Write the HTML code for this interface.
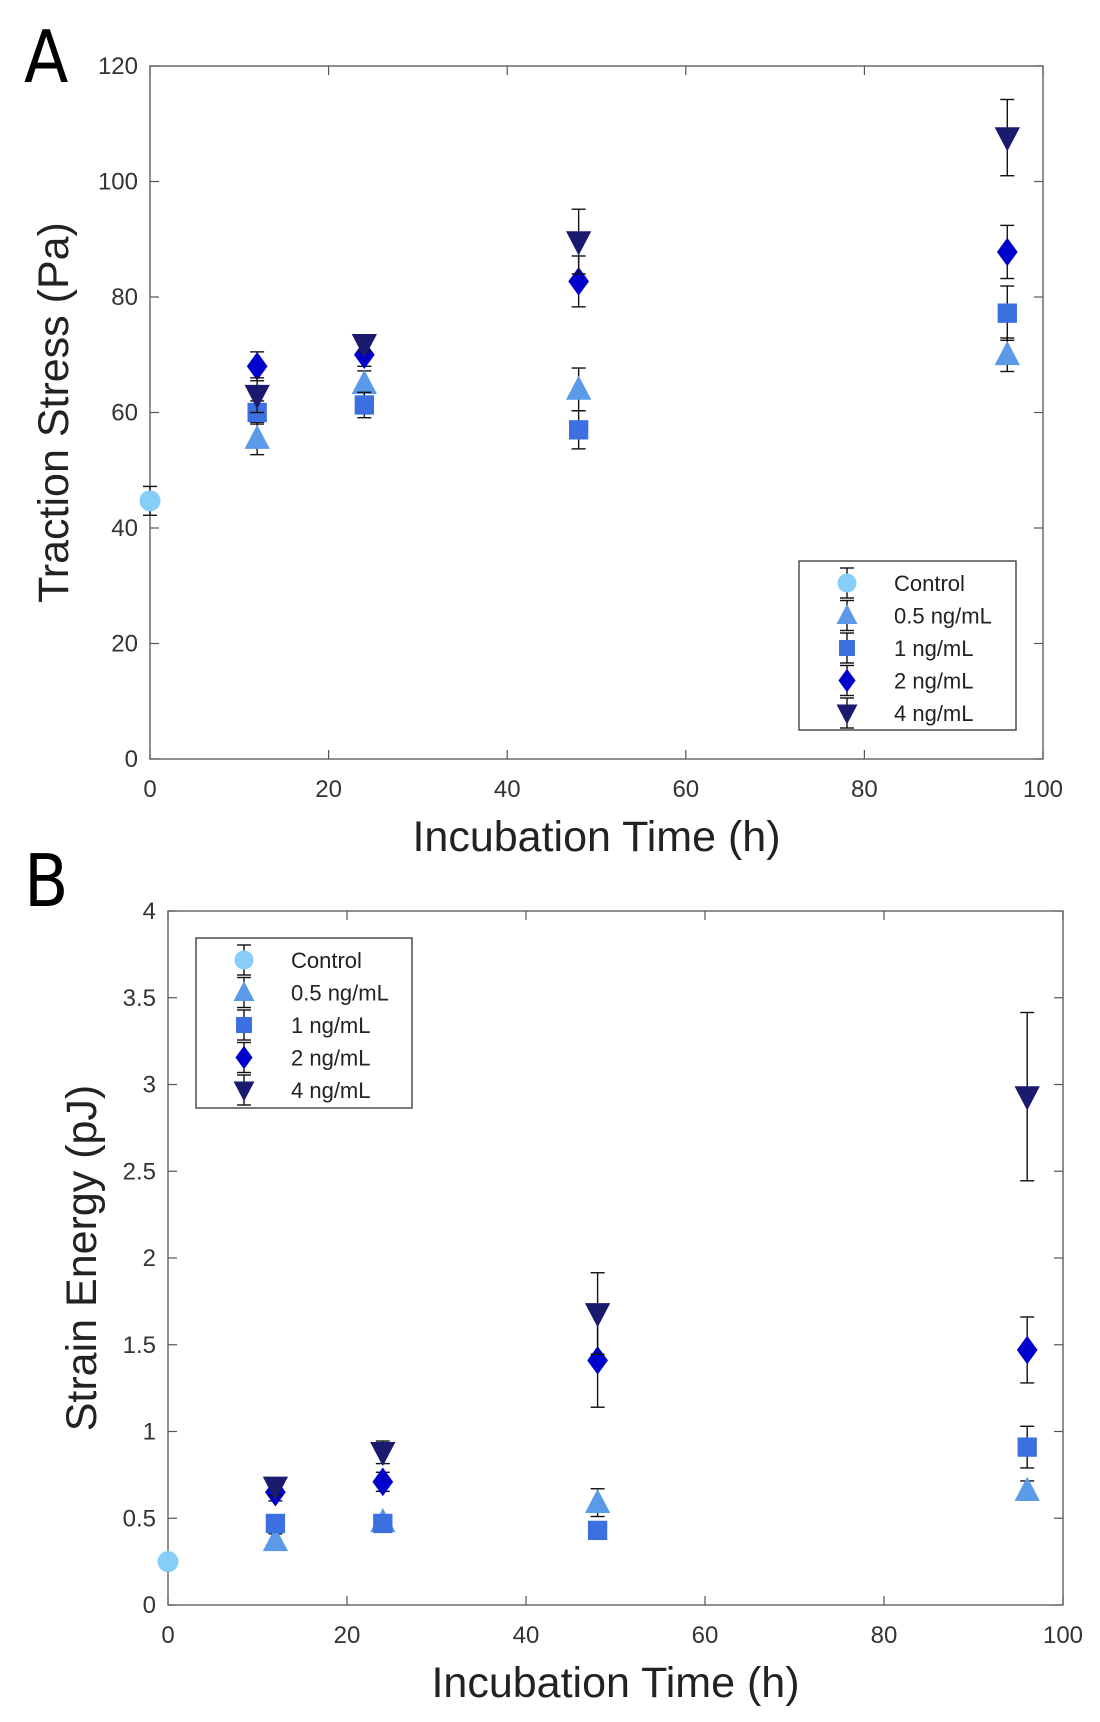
<!DOCTYPE html>
<html><head><meta charset="utf-8"><style>
html,body{margin:0;padding:0;background:#fff;}
svg{display:block;font-family:"Liberation Sans",sans-serif;}
</style></head><body>
<svg id="fig" width="1100" height="1722" viewBox="0 0 1100 1722" xmlns="http://www.w3.org/2000/svg"></svg>
<script>
const times = [12, 24, 48, 96];
const seriesNames = ["Control", "0.5 ng/mL", "1 ng/mL", "2 ng/mL", "4 ng/mL"];
const controlA = [44.7];
const controlErrA = [2.5];
const stressHalf = [55.5, 65, 64, 70];
const stressHalfErr = [2.8, 2.2, 3.7, 2.9];
const stressOne = [60, 61.3, 57, 77.2];
const stressOneErr = [2.0, 2.2, 3.3, 4.7];
const stressTwo = [68, 70, 82.7, 87.8];
const stressTwoErr = [2.5, 2.0, 4.4, 4.6];
const stressFour = [63, 71.8, 89.6, 107.6];
const stressFourErr = [3.0, 1.3, 5.6, 6.6];
const controlB = [0.25];
const controlErrB = [0.03];
const energyHalf = [0.37, 0.48, 0.59, 0.66];
const energyHalfErr = [0.04, 0.03, 0.08, 0.055];
const energyOne = [0.47, 0.47, 0.43, 0.91];
const energyOneErr = [0.045, 0.03, 0.05, 0.12];
const energyTwo = [0.65, 0.71, 1.41, 1.47];
const energyTwoErr = [0.05, 0.055, 0.27, 0.19];
const energyFour = [0.68, 0.88, 1.68, 2.93];
const energyFourErr = [0.05, 0.065, 0.235, 0.485];
const xTicks = [0, 20, 40, 60, 80, 100];
const yTicksA = [0, 20, 40, 60, 80, 100, 120];
const yTicksB = [0, 0.5, 1, 1.5, 2, 2.5, 3, 3.5, 4];

const NS = "http://www.w3.org/2000/svg";
const svg = document.getElementById("fig");
const colors = ["#86cdf7", "#5b9ae8", "#3c6fe0", "#0000cd", "#1a1a6e"];
const shapes = ["circle", "up", "square", "diamond", "down"];
function el(tag, attrs, parent) {
  const e = document.createElementNS(NS, tag);
  for (const k in attrs) e.setAttribute(k, attrs[k]);
  (parent || svg).appendChild(e);
  return e;
}
function marker(g, shape, cx, cy, color, s) {
  let m;
  if (shape === "circle") m = el("circle", {cx: cx, cy: cy, r: s * 0.5, fill: color}, g);
  else if (shape === "square") m = el("rect", {x: cx - s * 0.42, y: cy - s * 0.42, width: s * 0.84, height: s * 0.84, fill: color}, g);
  else if (shape === "up") m = el("polygon", {points: `${cx},${cy - s * 0.6} ${cx - s * 0.55},${cy + s * 0.45} ${cx + s * 0.55},${cy + s * 0.45}`, fill: color}, g);
  else if (shape === "down") m = el("polygon", {points: `${cx},${cy + s * 0.6} ${cx - s * 0.55},${cy - s * 0.45} ${cx + s * 0.55},${cy - s * 0.45}`, fill: color}, g);
  else m = el("polygon", {points: `${cx},${cy - s * 0.62} ${cx + s * 0.45},${cy} ${cx},${cy + s * 0.62} ${cx - s * 0.45},${cy}`, fill: color}, g);
  return m;
}
function errbar(g, cx, y1, y2) {
  el("line", {x1: cx, x2: cx, y1: y1, y2: y2, stroke: "#111", "stroke-width": 1.4}, g);
  el("line", {x1: cx - 7, x2: cx + 7, y1: y1, y2: y1, stroke: "#111", "stroke-width": 1.4}, g);
  el("line", {x1: cx - 7, x2: cx + 7, y1: y2, y2: y2, stroke: "#111", "stroke-width": 1.4}, g);
}
function drawPanel(cfg) {
  const {L, R, T, B, ymax, yTicks, series, errs, ctrl, ctrlErr, letter, ytitle, legend, name, fmt} = cfg;
  const g = el("g", {});
  
  
  const sx = v => L + (v / 100) * (R - L);
  const sy = v => B - (v / ymax) * (B - T);
  el("rect", {x: L, y: T, width: R - L, height: B - T, fill: "none", stroke: "#555", "stroke-width": 1.3}, g);
  xTicks.forEach(t => {
    const x = sx(t);
    el("line", {x1: x, x2: x, y1: B, y2: B - 9, stroke: "#555", "stroke-width": 1.2}, g);
    el("line", {x1: x, x2: x, y1: T, y2: T + 9, stroke: "#555", "stroke-width": 1.2}, g);
    const tx = el("text", {x: x, y: B + 38, "text-anchor": "middle", "font-size": 24, fill: "#333"}, g);
    tx.textContent = t;
    
    
  });
  yTicks.forEach(t => {
    const y = sy(t);
    el("line", {x1: L, x2: L + 9, y1: y, y2: y, stroke: "#555", "stroke-width": 1.2}, g);
    el("line", {x1: R, x2: R - 9, y1: y, y2: y, stroke: "#555", "stroke-width": 1.2}, g);
    const tx = el("text", {x: L - 12, y: y + 8, "text-anchor": "end", "font-size": 24, fill: "#333"}, g);
    tx.textContent = fmt(t);
    
    
  });
  const xt = el("text", {x: (L + R) / 2, y: B + 92, "text-anchor": "middle", "font-size": 43, fill: "#222"}, g);
  xt.textContent = "Incubation Time (h)";
  
  
  const yc = (T + B) / 2;
  const yt = el("text", {x: cfg.ytx, y: yc, "text-anchor": "middle", "font-size": 43, fill: "#222", transform: `rotate(-90 ${cfg.ytx} ${yc})`}, g);
  yt.textContent = ytitle;
  
  
  const lt = el("text", {x: 24, y: cfg.letterY, "font-size": 72, fill: "#000", "font-family": "DejaVu Sans Condensed, Liberation Sans, sans-serif"}, g);
  lt.textContent = letter;
  
  
  ctrl.forEach((v, i) => {
    const cx = sx(0);
    errbar(g, cx, sy(v + ctrlErr[i]), sy(v - ctrlErr[i]));
    const m = marker(g, "circle", cx, sy(v), colors[0], 21);
    
    
  });
  series.forEach((vals, si) => {
    vals.forEach((v, i) => {
      const cx = sx(times[i]);
      errbar(g, cx, sy(v + errs[si][i]), sy(v - errs[si][i]));
      const m = marker(g, shapes[si + 1], cx, sy(v), colors[si + 1], 23);
      
      
    });
  });
  const lg = el("g", {}, g);
  
  
  el("rect", {x: legend.x, y: legend.y, width: legend.w, height: legend.h, fill: "#fff", stroke: "#333", "stroke-width": 1.3}, lg);
  seriesNames.forEach((n, i) => {
    const y = legend.y + 22 + i * 32.5;
    const mx = legend.x + 48;
    errbar(lg, mx, y - 15, y + 15);
    marker(lg, shapes[i], mx, y, colors[i], 19);
    const t = el("text", {x: legend.x + 95, y: y + 8, "font-size": 22, fill: "#222"}, lg);
    t.textContent = n;
    
    
  });
}
drawPanel({L: 150, R: 1043, T: 66, B: 759, ymax: 120, yTicks: yTicksA,
  series: [stressHalf, stressOne, stressTwo, stressFour],
  errs: [stressHalfErr, stressOneErr, stressTwoErr, stressFourErr],
  ctrl: controlA, ctrlErr: controlErrA, letter: "A", letterY: 82, ytx: 68,
  ytitle: "Traction Stress (Pa)", legend: {x: 799, y: 561, w: 217, h: 169},
  name: "traction-stress-chart", fmt: t => String(t)});
drawPanel({L: 168, R: 1063, T: 911, B: 1605, ymax: 4, yTicks: yTicksB,
  series: [energyHalf, energyOne, energyTwo, energyFour],
  errs: [energyHalfErr, energyOneErr, energyTwoErr, energyFourErr],
  ctrl: controlB, ctrlErr: controlErrB, letter: "B", letterY: 906, ytx: 96,
  ytitle: "Strain Energy (pJ)", legend: {x: 196, y: 938, w: 216, h: 170},
  name: "strain-energy-chart", fmt: t => String(t)});
</script>
</body></html>
